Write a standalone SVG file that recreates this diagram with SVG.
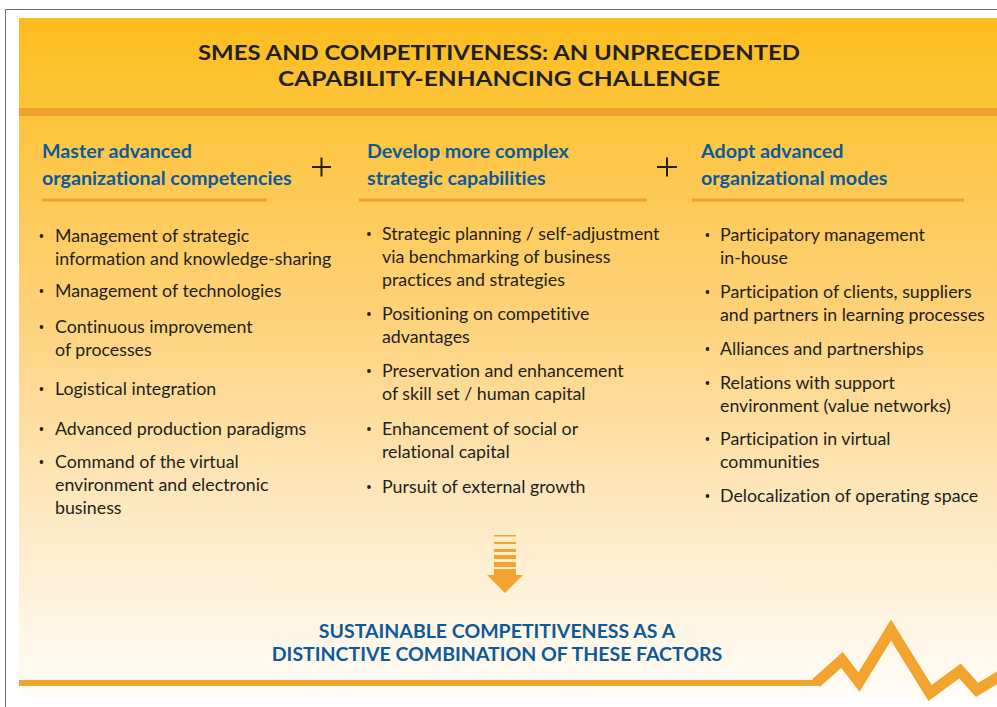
<svg xmlns="http://www.w3.org/2000/svg" width="997" height="707" viewBox="0 0 997 707">
  <defs>
    <linearGradient id="bandGrad" x1="0" y1="0" x2="0" y2="1">
      <stop offset="0" stop-color="#FDBC1E"/>
      <stop offset="1" stop-color="#FDC53A"/>
    </linearGradient>
    <linearGradient id="bodyGrad" x1="0" y1="116" x2="0" y2="690" gradientUnits="userSpaceOnUse">
      <stop offset="0" stop-color="#FEC43C"/>
      <stop offset="0.35" stop-color="#FED27A"/>
      <stop offset="0.7" stop-color="#FEE9C4"/>
      <stop offset="1" stop-color="#FFFCF6"/>
    </linearGradient>
    <style>
      text { font-variant-ligatures: none; }
      .title { font-family: Lato, "Liberation Sans", sans-serif; font-weight: 700; font-size: 20px; fill: #231F20; text-anchor: middle; }
      .head { font-family: Lato, "Liberation Sans", sans-serif; font-weight: 700; font-size: 19.7px; fill: #0D5A9A; }
      .item { font-family: Lato, "Liberation Sans", sans-serif; font-size: 17.8px; fill: #231F20; }
      .dot { fill: #231F20; }
      .plus { stroke: #231F20; stroke-width: 2; fill: none; }
      .rule { stroke: #F0A22E; stroke-width: 3; }
      .foot { font-family: Lato, "Liberation Sans", sans-serif; font-weight: 700; font-size: 19.5px; fill: #0D5A9A; text-anchor: middle; }
      .orange { fill: #F2A42E; }
    </style>
  </defs>

  <!-- page -->
  <rect x="0" y="0" width="997" height="707" fill="#FFFFFF"/>
  <path d="M5.5 707 V9.5 H997" fill="none" stroke="#6D6D6D" stroke-width="1"/>

  <!-- panel background -->
  <rect x="19" y="18" width="978" height="92" fill="url(#bandGrad)"/>
  <rect x="19" y="116" width="978" height="580" fill="url(#bodyGrad)"/>
  <rect x="19" y="108" width="978" height="8" fill="#F0A22E"/>

  <!-- title -->
  <g id="title">
    <text class="title" x="499" y="60" textLength="602" lengthAdjust="spacingAndGlyphs">SMES AND COMPETITIVENESS: AN UNPRECEDENTED</text>
    <text class="title" x="499" y="86" textLength="442" lengthAdjust="spacingAndGlyphs">CAPABILITY-ENHANCING CHALLENGE</text>
  </g>

  <!-- column 1 -->
  <g id="col-competencies">
    <text class="head" x="42" y="158">Master advanced</text>
    <text class="head" x="42" y="185">organizational competencies</text>
    <line class="rule" x1="42" y1="200" x2="267" y2="200"/>
    <g class="dot">
      <circle cx="41.5" cy="236" r="1.9"/>
      <circle cx="41.5" cy="291" r="1.9"/>
      <circle cx="41.5" cy="327" r="1.9"/>
      <circle cx="41.5" cy="389" r="1.9"/>
      <circle cx="41.5" cy="429" r="1.9"/>
      <circle cx="41.5" cy="462" r="1.9"/>
    </g>
    <g class="item">
      <text x="55" y="242">Management of strategic</text>
      <text x="55" y="265">information and knowledge-sharing</text>
      <text x="55" y="297">Management of technologies</text>
      <text x="55" y="333">Continuous improvement</text>
      <text x="55" y="356">of processes</text>
      <text x="55" y="395">Logistical integration</text>
      <text x="55" y="435">Advanced production paradigms</text>
      <text x="55" y="468">Command of the virtual</text>
      <text x="55" y="491">environment and electronic</text>
      <text x="55" y="514">business</text>
    </g>
  </g>

  <g id="plus-1">
    <path class="plus" d="M312 167 H331 M321.5 157.5 V176.5"/>
  </g>

  <!-- column 2 -->
  <g id="col-capabilities">
    <text class="head" x="367" y="158">Develop more complex</text>
    <text class="head" x="367" y="185">strategic capabilities</text>
    <line class="rule" x1="359" y1="200" x2="647" y2="200"/>
    <g class="dot">
      <circle cx="369" cy="234" r="1.9"/>
      <circle cx="369" cy="314" r="1.9"/>
      <circle cx="369" cy="371" r="1.9"/>
      <circle cx="369" cy="429" r="1.9"/>
      <circle cx="369" cy="487" r="1.9"/>
    </g>
    <g class="item">
      <text x="382" y="240">Strategic planning / self-adjustment</text>
      <text x="382" y="263">via benchmarking of business</text>
      <text x="382" y="286">practices and strategies</text>
      <text x="382" y="320">Positioning on competitive</text>
      <text x="382" y="343">advantages</text>
      <text x="382" y="377">Preservation and enhancement</text>
      <text x="382" y="400">of skill set / human capital</text>
      <text x="382" y="435">Enhancement of social or</text>
      <text x="382" y="458">relational capital</text>
      <text x="382" y="493">Pursuit of external growth</text>
    </g>
  </g>

  <g id="plus-2">
    <path class="plus" d="M657 167 H677 M667 157.5 V176.5"/>
  </g>

  <!-- column 3 -->
  <g id="col-modes">
    <text class="head" x="701" y="158">Adopt advanced</text>
    <text class="head" x="701" y="185">organizational modes</text>
    <line class="rule" x1="692" y1="200" x2="964" y2="200"/>
    <g class="dot">
      <circle cx="707.5" cy="235" r="1.9"/>
      <circle cx="707.5" cy="292" r="1.9"/>
      <circle cx="707.5" cy="349" r="1.9"/>
      <circle cx="707.5" cy="383" r="1.9"/>
      <circle cx="707.5" cy="439" r="1.9"/>
      <circle cx="707.5" cy="496" r="1.9"/>
    </g>
    <g class="item">
      <text x="720" y="241">Participatory management</text>
      <text x="720" y="264">in-house</text>
      <text x="720" y="298">Participation of clients, suppliers</text>
      <text x="720" y="321">and partners in learning processes</text>
      <text x="720" y="355">Alliances and partnerships</text>
      <text x="720" y="389">Relations with support</text>
      <text x="720" y="412">environment (value networks)</text>
      <text x="720" y="445">Participation in virtual</text>
      <text x="720" y="468">communities</text>
      <text x="720" y="502">Delocalization of operating space</text>
    </g>
  </g>

  <!-- downward arrow -->
  <g id="connectors">
    <g class="orange">
      <rect x="494" y="535" width="22" height="1.5"/>
      <rect x="494" y="542" width="22" height="2"/>
      <rect x="494" y="549" width="22" height="3"/>
      <rect x="494" y="555" width="22" height="4"/>
      <rect x="494" y="562" width="22" height="5"/>
      <rect x="494" y="569" width="22" height="6.5"/>
      <polygon points="487,575 523,575 505,593"/>
    </g>
  </g>

  <!-- conclusion -->
  <g id="conclusion">
    <text class="foot" x="497" y="638">SUSTAINABLE COMPETITIVENESS AS A</text>
    <text class="foot" x="497" y="661">DISTINCTIVE COMBINATION OF THESE FACTORS</text>
  </g>

  <!-- base line with zigzag -->
  <g id="baseline">
    <rect x="19" y="680" width="800" height="6" fill="#F2A42E"/>
    <polyline points="816,683 842,660 859,682 891,630 930,693 960,671 977,690 1000,676" fill="none" stroke="#F2A42E" stroke-width="11" stroke-linejoin="miter" stroke-miterlimit="10"/>
  </g>
</svg>
